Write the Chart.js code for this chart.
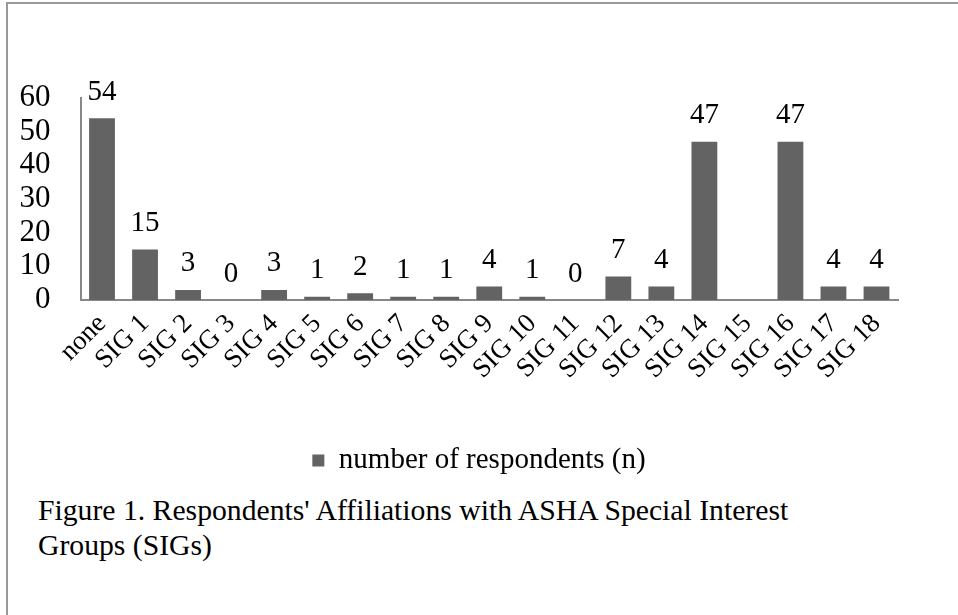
<!DOCTYPE html>
<html>
<head>
<meta charset="utf-8">
<script src="https://cdn.jsdelivr.net/npm/chart.js@4.4.1/dist/chart.umd.min.js"></script>
<style>
  html, body { margin: 0; padding: 0; background: #fff; }
  body { width: 958px; height: 615px; overflow: hidden; position: relative; font-family: "Liberation Serif", "Times New Roman", serif; }
  #frame { position: absolute; left: 6px; top: 2px; width: 1000px; height: 700px; border-left: 2px solid #999; border-top: 2px solid #999; }
  #wrap { position: absolute; left: 0; top: 0; width: 958px; height: 490px; }
  #caption { position: absolute; left: 38px; top: 493px; font-size: 29.7px; line-height: 35px; color: #000; white-space: nowrap; }
</style>
</head>
<body>
<div id="frame"></div>
<div id="wrap"><canvas id="c"></canvas></div>
<div id="caption">Figure 1. Respondents' Affiliations with ASHA Special Interest<br>Groups (SIGs)</div>
<script>
const categories = ["none", "SIG 1", "SIG 2", "SIG 3", "SIG 4", "SIG 5", "SIG 6", "SIG 7", "SIG 8", "SIG 9", "SIG 10", "SIG 11", "SIG 12", "SIG 13", "SIG 14", "SIG 15", "SIG 16", "SIG 17", "SIG 18"];
const respondents = [54, 15, 3, 0, 3, 1, 2, 1, 1, 4, 1, 0, 7, 4, 47, null, 47, 4, 4];
const seriesName = "number of respondents (n)";
const yTicks = [0, 10, 20, 30, 40, 50, 60];

const FONT = "'Liberation Serif', 'Times New Roman', serif";

const valueLabels = {
  id: 'valueLabels',
  afterDatasetsDraw(chart) {
    const ctx = chart.ctx;
    const meta = chart.getDatasetMeta(0);
    ctx.save();
    ctx.font = "29px " + FONT;
    ctx.fillStyle = "#000";
    ctx.textAlign = "center";
    ctx.textBaseline = "alphabetic";
    meta.data.forEach((bar, i) => {
      const v = respondents[i];
      if (v === null || v === undefined) return;
      ctx.fillText(String(v), bar.x, bar.y - 18.5);
    });
    ctx.restore();
  }
};

// centre the legend on the whole canvas, not only on the padded area
const legendCentre = {
  id: 'legendCentre',
  afterLayout(chart) {
    if (chart.legend) {
      chart.legend.left = 0;
      chart.legend.right = chart.width;
      chart.legend.width = chart.width;
    }
  }
};

new Chart(document.getElementById('c'), {
  type: 'bar',
  data: {
    labels: categories,
    datasets: [{
      label: seriesName,
      data: respondents,
      backgroundColor: '#636363',
      borderWidth: 0,
      barPercentage: 0.6,
      categoryPercentage: 1.0
    }]
  },
  options: {
    responsive: true,
    maintainAspectRatio: false,
    animation: false,
    layout: { padding: { left: 10, right: 60, top: 98, bottom: 5 } },
    plugins: {
      legend: {
        position: 'bottom',
        labels: {
          font: { family: FONT, size: 29 },
          color: '#000',
          boxWidth: 12,
          boxHeight: 12,
          padding: 10
        }
      },
      tooltip: { enabled: false },
      title: { display: false }
    },
    scales: {
      x: {
        grid: { display: false, drawTicks: false },
        border: { display: true, color: '#888', width: 2 },
        ticks: {
          font: { family: FONT, size: 27 },
          color: '#000',
          minRotation: 45,
          maxRotation: 45,
          padding: 8,
          autoSkip: false
        },
        afterFit(s) { s.height = 136; }
      },
      y: {
        min: 0,
        max: 60,
        grid: { display: false, drawTicks: false },
        border: { display: true, color: '#888', width: 2 },
        afterBuildTicks(s) { s.ticks = yTicks.map(v => ({ value: v })); },
        ticks: {
          font: { family: FONT, size: 31 },
          color: '#000',
          padding: 30,
          autoSkip: false
        },
        afterFit(s) { s.width = 70.5; }
      }
    }
  },
  plugins: [valueLabels, legendCentre]
});
</script>
</body>
</html>
